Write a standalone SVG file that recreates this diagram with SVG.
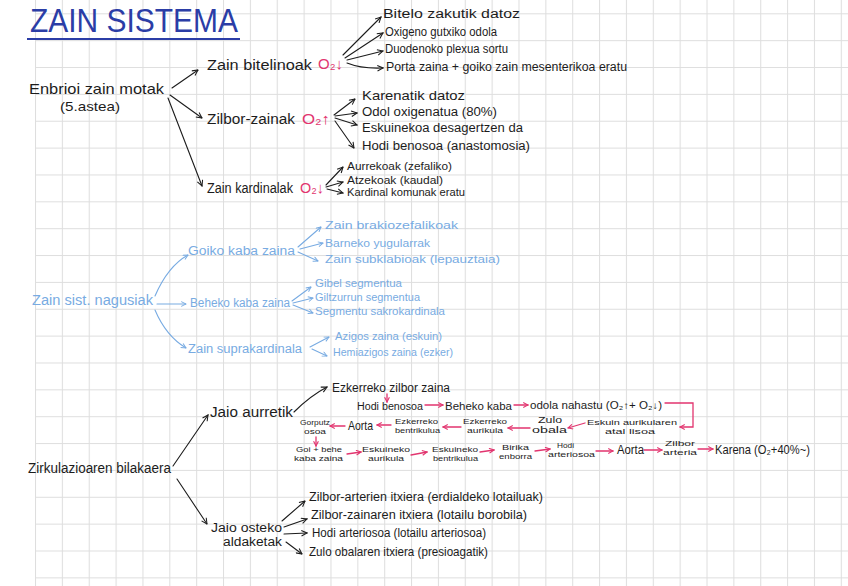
<svg xmlns="http://www.w3.org/2000/svg" width="848" height="586" viewBox="0 0 848 586">
<style>
text{font-family:"Liberation Sans","DejaVu Sans",sans-serif;}
.k{fill:#1c1c1c;}
.p{fill:#e2356f;}
.b{fill:#78abe2;}
.t{fill:#2b3da6;}
.ck{fill:none;stroke:#1c1c1c;stroke-width:1.1;stroke-linecap:round;}
.cp{fill:none;stroke:#e2356f;stroke-width:1.3;stroke-linecap:round;}
.cb{fill:none;stroke:#78abe2;stroke-width:1.1;stroke-linecap:round;}
.s15{font-size:15px}.s14{font-size:14px}.s13{font-size:13px}.s12{font-size:12px}.s11{font-size:11px}.s10{font-size:10px}.s9{font-size:9px}.s8{font-size:8px}
</style>
<defs>
<pattern id="grid" patternUnits="userSpaceOnUse" x="35" y="13.3" width="26.86" height="26.86">
<path d="M0.5,0 V26.86 M0,0.5 H26.86" fill="none" stroke="#dedede" stroke-width="1.1"/>
</pattern>
<marker id="mk" viewBox="0 0 10 10" refX="9" refY="5" markerWidth="7" markerHeight="7" markerUnits="userSpaceOnUse" orient="auto">
<path d="M1,1 L9,5 L1,9" fill="none" stroke="#1c1c1c" stroke-width="1.5"/>
</marker>
<marker id="mp" viewBox="0 0 10 10" refX="9" refY="5" markerWidth="6" markerHeight="6" markerUnits="userSpaceOnUse" orient="auto">
<path d="M1,1 L9,5 L1,9" fill="none" stroke="#e2356f" stroke-width="1.8"/>
</marker>
<marker id="mb" viewBox="0 0 10 10" refX="9" refY="5" markerWidth="6" markerHeight="6" markerUnits="userSpaceOnUse" orient="auto">
<path d="M1,1 L9,5 L1,9" fill="none" stroke="#78abe2" stroke-width="1.6"/>
</marker>
</defs>
<rect width="848" height="586" fill="#ffffff"/>
<rect x="35" y="0" width="813" height="586" fill="url(#grid)"/>

<g id="title">
<text class="t" x="30" y="32" font-size="34" textLength="208" lengthAdjust="spacingAndGlyphs">ZAIN SISTEMA</text>
<line x1="27" y1="39" x2="240" y2="39" stroke="#2b3da6" stroke-width="2"/>
</g>

<g id="connectors">
<path class="ck" marker-end="url(#mk)" d="M172,88 L198,70"/>
<path class="ck" marker-end="url(#mk)" d="M170,95 L202,118"/>
<path class="ck" marker-end="url(#mk)" d="M168,98 L202,186"/>
<path class="ck" marker-end="url(#mk)" d="M343,55 L381,17"/>
<path class="ck" marker-end="url(#mk)" d="M345,58 L383,33"/>
<path class="ck" marker-end="url(#mk)" d="M347,60 L383,51"/>
<path class="ck" marker-end="url(#mk)" d="M347,63 Q362,69 383,68"/>
<path class="ck" marker-end="url(#mk)" d="M334,115 L355,99"/>
<path class="ck" marker-end="url(#mk)" d="M335,116 L357,113"/>
<path class="ck" marker-end="url(#mk)" d="M335,118 L357,125"/>
<path class="ck" marker-end="url(#mk)" d="M335,121 L354,148"/>
<path class="ck" marker-end="url(#mk)" d="M326,185 L343,167"/>
<path class="ck" marker-end="url(#mk)" d="M326,187 L343,182"/>
<path class="ck" marker-end="url(#mk)" d="M327,189 L343,193"/>
<path class="cb" marker-end="url(#mb)" d="M155,296 Q168,266 188,255"/>
<path class="cb" marker-end="url(#mb)" d="M157,304 L186,304"/>
<path class="cb" marker-end="url(#mb)" d="M155,310 Q166,336 186,348"/>
<path class="cb" marker-end="url(#mb)" d="M298,247 L321,227"/>
<path class="cb" marker-end="url(#mb)" d="M300,249 L323,243"/>
<path class="cb" marker-end="url(#mb)" d="M298,252 L318,261"/>
<path class="cb" marker-end="url(#mb)" d="M292,301 L311,287"/>
<path class="cb" marker-end="url(#mb)" d="M293,303 L313,298"/>
<path class="cb" marker-end="url(#mb)" d="M293,305 L313,313"/>
<path class="cb" marker-end="url(#mb)" d="M310,347 L329,337"/>
<path class="cb" marker-end="url(#mb)" d="M312,349 L327,356"/>
<path class="ck" marker-end="url(#mk)" d="M173,466 L208,415"/>
<path class="ck" marker-end="url(#mk)" d="M177,479 L207,524"/>
<path class="ck" marker-end="url(#mk)" d="M294,412 Q310,396 327,387"/>
<path class="cp" marker-end="url(#mp)" d="M387,394 L387,402"/>
<path class="cp" marker-end="url(#mp)" d="M425,405 L443,405"/>
<path class="cp" marker-end="url(#mp)" d="M514,405 L528,405"/>
<path class="cp" marker-end="url(#mp)" d="M665,403 L693,403 L693,427 L680,427"/>
<path class="cp" marker-end="url(#mp)" d="M585,423 L568,428"/>
<path class="cp" marker-end="url(#mp)" d="M530,428 L508,428"/>
<path class="cp" marker-end="url(#mp)" d="M461,427 L443,427"/>
<path class="cp" marker-end="url(#mp)" d="M391,425 L377,425"/>
<path class="cp" marker-end="url(#mp)" d="M345,426 L330,426"/>
<path class="cp" marker-end="url(#mp)" d="M316,437 L316,446"/>
<path class="cp" marker-end="url(#mp)" d="M347,454 L361,452"/>
<path class="cp" marker-end="url(#mp)" d="M411,455 L427,452"/>
<path class="cp" marker-end="url(#mp)" d="M480,452 L494,450"/>
<path class="cp" marker-end="url(#mp)" d="M535,451 L550,449"/>
<path class="cp" marker-end="url(#mp)" d="M596,451 L613,451"/>
<path class="cp" marker-end="url(#mp)" d="M644,450 L662,450"/>
<path class="cp" marker-end="url(#mp)" d="M698,449 L713,449"/>
<path class="ck" marker-end="url(#mk)" d="M282,521 L305,501"/>
<path class="ck" marker-end="url(#mk)" d="M284,527 L307,519"/>
<path class="ck" marker-end="url(#mk)" d="M284,534 L307,533"/>
<path class="ck" marker-end="url(#mk)" d="M286,542 L302,554"/>
</g>

<g id="enbrioi"><text class="k s15"><tspan x="29" y="94" textLength="135" lengthAdjust="spacingAndGlyphs">Enbrioi zain motak</tspan><tspan class="s13" x="60" y="111" textLength="60" lengthAdjust="spacingAndGlyphs">(5.astea)</tspan></text></g>
<g id="bitelinoak"><text class="k s14" x="207" y="70" textLength="105" lengthAdjust="spacingAndGlyphs">Zain bitelinoak</text>
<text class="p s15" x="318" y="69" textLength="25" lengthAdjust="spacingAndGlyphs">O₂↓</text></g>
<g id="bitelo"><text class="k s12" x="383" y="18" textLength="137" lengthAdjust="spacingAndGlyphs">Bitelo zakutik datoz</text></g>
<g id="oxigeno"><text class="k s12" x="385" y="36" textLength="112" lengthAdjust="spacingAndGlyphs">Oxigeno gutxiko odola</text></g>
<g id="duodeno"><text class="k s12" x="385" y="53" textLength="123" lengthAdjust="spacingAndGlyphs">Duodenoko plexua sortu</text></g>
<g id="porta"><text class="k s12" x="386" y="71" textLength="241" lengthAdjust="spacingAndGlyphs">Porta zaina + goiko zain mesenterikoa eratu</text></g>
<g id="zilbor"><text class="k s14" x="207" y="124" textLength="88" lengthAdjust="spacingAndGlyphs">Zilbor-zainak</text>
<text class="p s15" x="302" y="124" textLength="28" lengthAdjust="spacingAndGlyphs">O₂↑</text></g>
<g id="karenatik"><text class="k s12" x="362" y="100" textLength="103" lengthAdjust="spacingAndGlyphs">Karenatik datoz</text></g>
<g id="odoloxi"><text class="k s12" x="362" y="116" textLength="135" lengthAdjust="spacingAndGlyphs">Odol oxigenatua (80%)</text></g>
<g id="eskuinekoa"><text class="k s12" x="362" y="132" textLength="161" lengthAdjust="spacingAndGlyphs">Eskuinekoa desagertzen da</text></g>
<g id="hodibenosoa"><text class="k s12" x="362" y="150" textLength="168" lengthAdjust="spacingAndGlyphs">Hodi benosoa (anastomosia)</text></g>
<g id="kardinalak"><text class="k s14" x="207" y="193" textLength="86" lengthAdjust="spacingAndGlyphs">Zain kardinalak</text>
<text class="p s15" x="300" y="193" textLength="24" lengthAdjust="spacingAndGlyphs">O₂↓</text></g>
<g id="aurrekoak"><text class="k s10" x="347" y="170" textLength="105" lengthAdjust="spacingAndGlyphs">Aurrekoak (zefaliko)</text></g>
<g id="atzekoak"><text class="k s10" x="347" y="184" textLength="96" lengthAdjust="spacingAndGlyphs">Atzekoak (kaudal)</text></g>
<g id="komunak"><text class="k s10" x="347" y="196" textLength="118" lengthAdjust="spacingAndGlyphs">Kardinal komunak eratu</text></g>

<g id="nagusiak"><text class="b s14" x="32" y="305" textLength="121" lengthAdjust="spacingAndGlyphs">Zain sist. nagusiak</text></g>
<g id="goiko"><text class="b s12" x="188" y="255" textLength="107" lengthAdjust="spacingAndGlyphs">Goiko kaba zaina</text></g>
<g id="beheko"><text class="b s12" x="190" y="307" textLength="100" lengthAdjust="spacingAndGlyphs">Beheko kaba zaina</text></g>
<g id="supra"><text class="b s12" x="188" y="353" textLength="114" lengthAdjust="spacingAndGlyphs">Zain suprakardinala</text></g>
<g id="brakio"><text class="b s11" x="325" y="229" textLength="133" lengthAdjust="spacingAndGlyphs">Zain brakiozefalikoak</text></g>
<g id="yugular"><text class="b s11" x="325" y="247" textLength="105" lengthAdjust="spacingAndGlyphs">Barneko yugularrak</text></g>
<g id="subklabio"><text class="b s11" x="325" y="263" textLength="175" lengthAdjust="spacingAndGlyphs">Zain subklabioak (lepauztaia)</text></g>
<g id="gibel"><text class="b s11" x="315" y="287" textLength="87" lengthAdjust="spacingAndGlyphs">Gibel segmentua</text></g>
<g id="giltzurrun"><text class="b s11" x="315" y="301" textLength="105" lengthAdjust="spacingAndGlyphs">Giltzurrun segmentua</text></g>
<g id="sakro"><text class="b s11" x="315" y="315" textLength="130" lengthAdjust="spacingAndGlyphs">Segmentu sakrokardinala</text></g>
<g id="azigos"><text class="b s11" x="335" y="340" textLength="107" lengthAdjust="spacingAndGlyphs">Azigos zaina (eskuin)</text></g>
<g id="hemiazigos"><text class="b s11" x="333" y="356" textLength="120" lengthAdjust="spacingAndGlyphs">Hemiazigos zaina (ezker)</text></g>

<g id="zirkulazioa"><text class="k s14" x="28" y="473" textLength="143" lengthAdjust="spacingAndGlyphs">Zirkulazioaren bilakaera</text></g>
<g id="jaioaurretik"><text class="k s14" x="210" y="417" textLength="83" lengthAdjust="spacingAndGlyphs">Jaio aurretik</text></g>
<g id="ezkzilbor"><text class="k s12" x="332" y="392" textLength="118" lengthAdjust="spacingAndGlyphs">Ezkerreko zilbor zaina</text></g>
<g id="hodiben"><text class="k s10" x="357" y="410" textLength="66" lengthAdjust="spacingAndGlyphs">Hodi benosoa</text></g>
<g id="behekokaba"><text class="k s10" x="445" y="410" textLength="67" lengthAdjust="spacingAndGlyphs">Beheko kaba</text></g>
<g id="nahastu"><text class="k s10" x="530" y="409" textLength="132" lengthAdjust="spacingAndGlyphs">odola nahastu (O₂↑+ O₂↓)</text></g>
<g id="atallisoa"><text class="k s8"><tspan x="587" y="425" textLength="90" lengthAdjust="spacingAndGlyphs">Eskuin aurikularen</tspan><tspan x="605" y="434" textLength="50" lengthAdjust="spacingAndGlyphs">atal lisoa</tspan></text></g>
<g id="zuloobala"><text class="k s9"><tspan x="538" y="423" textLength="24" lengthAdjust="spacingAndGlyphs">Zulo</tspan><tspan x="532" y="433" textLength="35" lengthAdjust="spacingAndGlyphs">obala</tspan></text></g>
<g id="ezkaurikula"><text class="k s8"><tspan x="463" y="424" textLength="44" lengthAdjust="spacingAndGlyphs">Ezkerreko</tspan><tspan x="467" y="433" textLength="36" lengthAdjust="spacingAndGlyphs">aurikula</tspan></text></g>
<g id="ezkbentrikulua"><text class="k s8"><tspan x="395" y="424" textLength="43" lengthAdjust="spacingAndGlyphs">Ezkerreko</tspan><tspan x="395" y="433" textLength="45" lengthAdjust="spacingAndGlyphs">bentrikulua</tspan></text></g>
<g id="aorta1"><text class="k s13" x="348" y="430" textLength="25" lengthAdjust="spacingAndGlyphs">Aorta</text></g>
<g id="gorputz"><text class="k s8"><tspan x="300" y="425" textLength="30" lengthAdjust="spacingAndGlyphs">Gorputz</tspan><tspan x="304" y="434" textLength="22" lengthAdjust="spacingAndGlyphs">osoa</tspan></text></g>
<g id="goibehe"><text class="k s8"><tspan x="296" y="452" textLength="46" lengthAdjust="spacingAndGlyphs">Goi + behe</tspan><tspan x="294" y="461" textLength="49" lengthAdjust="spacingAndGlyphs">kaba zaina</tspan></text></g>
<g id="eskaurikula"><text class="k s8"><tspan x="362" y="452" textLength="48" lengthAdjust="spacingAndGlyphs">Eskuineko</tspan><tspan x="368" y="461" textLength="36" lengthAdjust="spacingAndGlyphs">aurikula</tspan></text></g>
<g id="eskbentrikulua"><text class="k s8"><tspan x="432" y="452" textLength="46" lengthAdjust="spacingAndGlyphs">Eskuineko</tspan><tspan x="433" y="461" textLength="45" lengthAdjust="spacingAndGlyphs">bentrikulua</tspan></text></g>
<g id="birika"><text class="k s8"><tspan x="502" y="450" textLength="27" lengthAdjust="spacingAndGlyphs">Birika</tspan><tspan x="499" y="459" textLength="33" lengthAdjust="spacingAndGlyphs">enborra</tspan></text></g>
<g id="hodiart"><text class="k s8"><tspan x="557" y="448" textLength="17" lengthAdjust="spacingAndGlyphs">Hodi</tspan><tspan x="548" y="457" textLength="47" lengthAdjust="spacingAndGlyphs">arteriosoa</tspan></text></g>
<g id="aorta2"><text class="k s12" x="617" y="454" textLength="27" lengthAdjust="spacingAndGlyphs">Aorta</text></g>
<g id="zilborart"><text class="k s8"><tspan x="665" y="446" textLength="30" lengthAdjust="spacingAndGlyphs">Zilbor</tspan><tspan x="663" y="455" textLength="34" lengthAdjust="spacingAndGlyphs">arteria</tspan></text></g>
<g id="karena"><text class="k s13" x="715" y="454" textLength="95" lengthAdjust="spacingAndGlyphs">Karena (O₂+40%~)</text></g>
<g id="jaioosteko"><text class="k s12"><tspan x="211" y="532" textLength="71" lengthAdjust="spacingAndGlyphs">Jaio osteko</tspan><tspan x="223" y="546" textLength="59" lengthAdjust="spacingAndGlyphs">aldaketak</tspan></text></g>
<g id="arterien"><text class="k s12" x="309" y="501" textLength="234" lengthAdjust="spacingAndGlyphs">Zilbor-arterien itxiera (erdialdeko lotailuak)</text></g>
<g id="zainaren"><text class="k s12" x="311" y="519" textLength="216" lengthAdjust="spacingAndGlyphs">Zilbor-zainaren itxiera (lotailu borobila)</text></g>
<g id="hodiarteriosoa"><text class="k s12" x="312" y="537" textLength="174" lengthAdjust="spacingAndGlyphs">Hodi arteriosoa (lotailu arteriosoa)</text></g>
<g id="zuloitxiera"><text class="k s12" x="309" y="556" textLength="179" lengthAdjust="spacingAndGlyphs">Zulo obalaren itxiera (presioagatik)</text></g>
</svg>
